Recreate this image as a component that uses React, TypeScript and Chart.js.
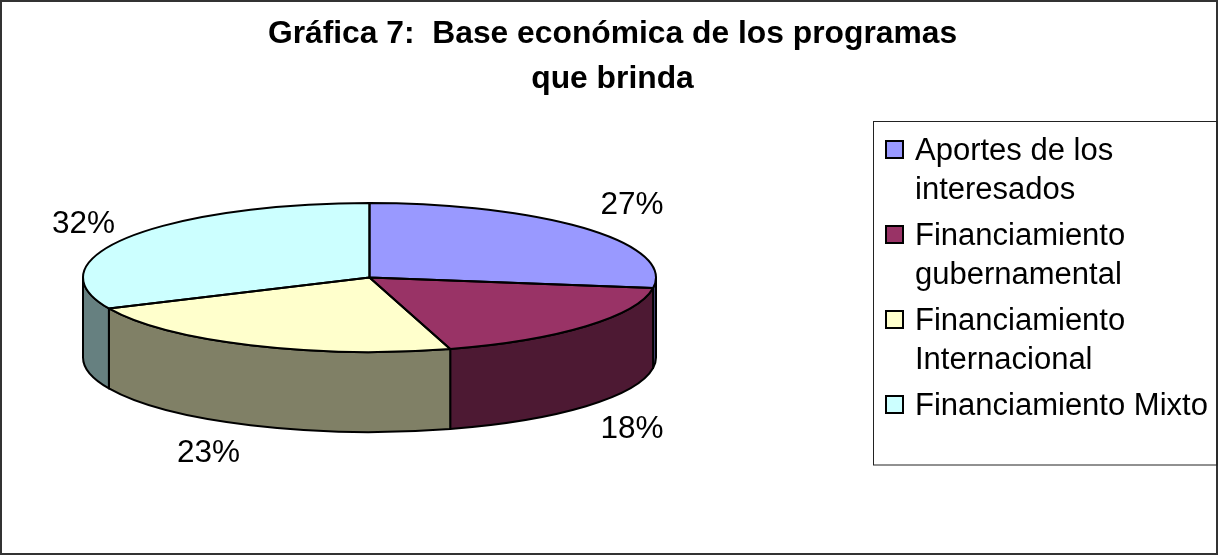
import React, { useEffect, useRef } from "react";
import { Chart, registerables } from "chart.js";

Chart.register(...registerables);

const titleLines = ["Gráfica 7:  Base económica de los programas", "que brinda"];
const categories = ["Aportes de los interesados", "Financiamiento gubernamental", "Financiamiento Internacional", "Financiamiento Mixto"];
const legendLines = [["Aportes de los", "interesados"], ["Financiamiento", "gubernamental"], ["Financiamiento", "Internacional"], ["Financiamiento Mixto"]];
const values = [6, 4, 5, 7];
const topColors = ["#9999FF", "#993366", "#FFFFCC", "#CCFFFF"];
const sideColors = ["#4D4D80", "#4D1933", "#808066", "#668080"];
const labelOffsets = [[46, -23], [46, 23], [-42, 28], [-45, -13]];

const FONT = '"Liberation Sans", Arial, sans-serif';
const PIE = { cx: 369.5, cy: 277.5, rx: 286.5, ry: 74.5, depth: 80 };
const total = values.reduce((a, b) => a + b, 0);

const pie3d = {
  id: "pie3d",
  beforeDraw(chart: any) {
    const { ctx, width, height } = chart;
    ctx.save();
    ctx.fillStyle = "#fff";
    ctx.fillRect(0, 0, width, height);
    ctx.strokeStyle = "#333";
    ctx.lineWidth = 2;
    ctx.strokeRect(1, 1, width - 2, height - 2);
    ctx.lineWidth = 1;
    ctx.strokeStyle = "#222";
    ctx.strokeRect(873.5, 121.5, 343.5, 343.5);
    ctx.restore();
  },
  beforeDatasetDraw(chart: any) {
    const { ctx } = chart;
    const arcs = chart.getDatasetMeta(0).data;
    const { cx, cy, rx, ry, depth } = PIE;
    ctx.save();
    ctx.lineWidth = 2;
    ctx.strokeStyle = "#000";
    ctx.lineJoin = "round";
    arcs.forEach((a: any, i: number) => {
      const s = Math.max(a.startAngle, 0);
      const e = Math.min(a.endAngle, Math.PI);
      if (e <= s) return;
      ctx.beginPath();
      ctx.ellipse(cx, cy, rx, ry, 0, s, e);
      ctx.lineTo(cx + rx * Math.cos(e), cy + ry * Math.sin(e) + depth);
      ctx.ellipse(cx, cy + depth, rx, ry, 0, e, s, true);
      ctx.closePath();
      ctx.fillStyle = sideColors[i];
      ctx.fill();
      ctx.stroke();
    });
    const first = arcs[0];
    ctx.translate(cx, cy);
    ctx.scale(rx / first.outerRadius, ry / first.outerRadius);
    ctx.translate(-first.x, -first.y);
  },
  afterDatasetDraw(chart: any) {
    const { ctx } = chart;
    ctx.restore();
    const arcs = chart.getDatasetMeta(0).data;
    const { cx, cy, rx, ry, depth } = PIE;
    ctx.save();
    ctx.lineWidth = 2;
    ctx.strokeStyle = "#000";
    ctx.lineJoin = "round";
    arcs.forEach((a: any) => {
      ctx.beginPath();
      ctx.moveTo(cx, cy);
      ctx.ellipse(cx, cy, rx, ry, 0, a.startAngle, a.endAngle);
      ctx.closePath();
      ctx.stroke();
    });
    ctx.fillStyle = "#000";
    ctx.font = `31.5px ${FONT}`;
    ctx.textAlign = "center";
    ctx.textBaseline = "middle";
    arcs.forEach((a: any, i: number) => {
      const mid = (a.startAngle + a.endAngle) / 2;
      const sin = Math.sin(mid);
      const x = cx + rx * Math.cos(mid) + labelOffsets[i][0];
      const y = cy + ry * sin + (sin > 0 ? depth : 0) + labelOffsets[i][1];
      ctx.fillText(`${Math.round((values[i] / total) * 100)}%`, x, y);
    });
    ctx.restore();
  },
  afterDraw(chart: any) {
    const { ctx } = chart;
    ctx.save();
    ctx.font = `31px ${FONT}`;
    ctx.textAlign = "left";
    ctx.textBaseline = "alphabetic";
    let y = 160;
    legendLines.forEach((lines, i) => {
      ctx.fillStyle = topColors[i];
      ctx.strokeStyle = "#000";
      ctx.lineWidth = 2;
      ctx.fillRect(886, y - 19, 17, 17);
      ctx.strokeRect(886, y - 19, 17, 17);
      ctx.fillStyle = "#000";
      lines.forEach((line, j) => ctx.fillText(line, 915, y + j * 38.5));
      y += lines.length * 38.5 + 8;
    });
    ctx.restore();
  },
};

export default function App() {
  const ref = useRef<HTMLCanvasElement>(null);
  useEffect(() => {
    document.body.style.margin = "0";
    const chart = new Chart(ref.current as HTMLCanvasElement, {
      type: "pie",
      data: {
        labels: categories,
        datasets: [{ data: values, backgroundColor: topColors, borderWidth: 0, hoverOffset: 0 }],
      },
      options: {
        responsive: false,
        animation: false,
        events: [],
        layout: { padding: { left: 7 } },
        plugins: {
          legend: { display: false },
          tooltip: { enabled: false },
          title: {
            display: true,
            text: titleLines,
            color: "#000",
            font: { family: FONT, size: 31.8, weight: "bold", lineHeight: 1.44 },
            padding: { top: 11, bottom: 10 },
          },
        },
      },
      plugins: [pie3d],
    } as any);
    return () => chart.destroy();
  }, []);
  return <canvas ref={ref} width={1218} height={555} style={{ display: "block" }} />;
}
